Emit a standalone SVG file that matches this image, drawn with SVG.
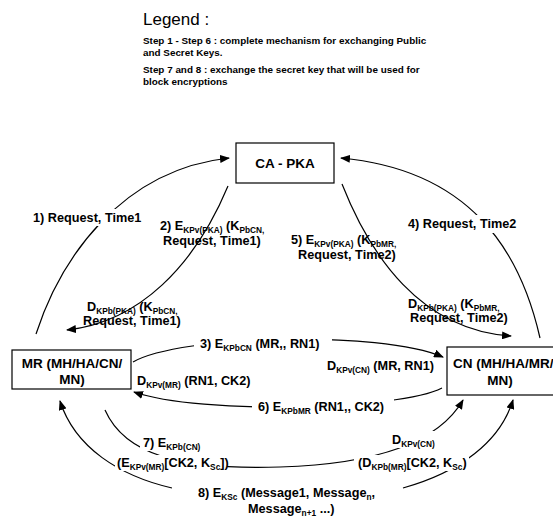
<svg xmlns="http://www.w3.org/2000/svg" width="553" height="523" viewBox="0 0 553 523">
<style>
text{font-family:"Liberation Sans",Arial,sans-serif;fill:#000}
.lg{font-size:17px}
.st{font-size:9.9px;font-weight:bold}
.nd{font-size:13.5px;font-weight:bold}
.lb{font-size:12.7px;font-weight:bold}
.s{font-size:8.3px}
.bg{fill:#fff}
.box{fill:#fff;stroke:#000;stroke-width:1.2}
.c{fill:none;stroke:#000;stroke-width:1.2}
</style>
<defs>
<marker id="ah" viewBox="0 0 10 8" refX="9" refY="4" markerWidth="10" markerHeight="8" markerUnits="userSpaceOnUse" orient="auto-start-reverse">
<path d="M0,0 L10,4 L0,8 Z" fill="#000"/>
</marker>
</defs>
<rect width="553" height="523" fill="#fff"/>
<g id="legend">
<text class="lg" x="143" y="25">Legend :</text>
<text class="st" x="143" y="44">Step 1 - Step 6 : complete mechanism for exchanging Public</text>
<text class="st" x="143" y="56">and Secret Keys.</text>
<text class="st" x="143" y="73">Step 7 and 8 : exchange the secret key that will be used for</text>
<text class="st" x="143" y="85">block encryptions</text>
</g>
<g id="connectors">
<path class="c" marker-end="url(#ah)" d="M36,334 C60,260 120,170 229,158"/>
<path class="c" marker-end="url(#ah)" d="M540,338 C520,250 470,170 341,158"/>
<path class="c" marker-end="url(#ah)" d="M228,186 C195,265 140,322 67,330"/>
<path class="c" marker-end="url(#ah)" d="M342,184 C370,255 420,330 511,336"/>
<path class="c" marker-end="url(#ah)" d="M133,362 C180,335 380,330 443,357"/>
<path class="c" marker-end="url(#ah)" d="M442,388 C400,410 200,415 134,392"/>
<path class="c" marker-end="url(#ah)" d="M105,410 C125,455 180,470 280,467 C380,464 440,440 463,400"/>
<path class="c" marker-end="url(#ah)" d="M172,488 C120,476 75,448 60,401"/>
<path class="c" marker-end="url(#ah)" d="M403,488 C460,472 500,442 513,400"/>
</g>
<g id="ca-pka">
<rect class="box" x="236" y="143" width="98" height="40"/>
<text class="nd" x="285" y="168" text-anchor="middle">CA - PKA</text>
</g>
<g id="mr">
<rect class="box" x="12" y="350" width="119" height="39"/>
<text class="nd" x="72" y="368" text-anchor="middle">MR (MH/HA/CN/</text>
<text class="nd" x="72" y="384" text-anchor="middle">MN)</text>
</g>
<g id="cn">
<rect class="box" x="447" y="347" width="112" height="48"/>
<text class="nd" x="453" y="368">CN (MH/HA/MR/</text>
<text class="nd" x="500" y="385" text-anchor="middle">MN)</text>
</g>
<g id="labels">
<rect class="bg" x="31" y="209" width="113" height="17"/>
<rect class="bg" x="405" y="215" width="116" height="18"/>
<rect class="bg" x="194" y="335" width="138" height="17"/>
<rect class="bg" x="252" y="398" width="142" height="18"/>
<rect class="bg" x="140" y="435" width="72" height="16"/>
<rect class="bg" x="115" y="455" width="112" height="16"/>
<rect class="bg" x="388" y="431" width="52" height="17"/>
<rect class="bg" x="354" y="455" width="115" height="16"/>
<text class="lb" x="33" y="222">1) Request, Time1</text>
<text class="lb" x="160" y="230">2) E<tspan class="s" dy="2.5">KPv(PKA)</tspan><tspan dy="-2.5"> (K</tspan><tspan class="s" dy="2.5">PbCN,</tspan></text>
<text class="lb" x="163" y="245">Request, Time1)</text>
<text class="lb" x="87" y="311">D<tspan class="s" dy="2.5">KPb(PKA)</tspan><tspan dy="-2.5"> (K</tspan><tspan class="s" dy="2.5">PbCN,</tspan></text>
<text class="lb" x="83" y="325">Request, Time1)</text>
<text class="lb" x="408" y="228">4) Request, Time2</text>
<text class="lb" x="291" y="244">5) E<tspan class="s" dy="2.5">KPv(PKA)</tspan><tspan dy="-2.5"> (K</tspan><tspan class="s" dy="2.5">PbMR,</tspan></text>
<text class="lb" x="298" y="259">Request, Time2)</text>
<text class="lb" x="408" y="308">D<tspan class="s" dy="2.5">KPb(PKA)</tspan><tspan dy="-2.5"> (K</tspan><tspan class="s" dy="2.5">PbMR,</tspan></text>
<text class="lb" x="410" y="322">Request, Time2)</text>
<text class="lb" x="200" y="348">3) E<tspan class="s" dy="2.5">KPbCN</tspan><tspan dy="-2.5"> (MR,, RN1)</tspan></text>
<text class="lb" x="327" y="370">D<tspan class="s" dy="2.5">KPv(CN)</tspan><tspan dy="-2.5"> (MR, RN1)</tspan></text>
<text class="lb" x="137" y="385">D<tspan class="s" dy="2.5">KPv(MR)</tspan><tspan dy="-2.5"> (RN1, CK2)</tspan></text>
<text class="lb" x="258" y="411">6) E<tspan class="s" dy="2.5">KPbMR</tspan><tspan dy="-2.5"> (RN1,, CK2)</tspan></text>
<text class="lb" x="143" y="447">7) E<tspan class="s" dy="2.5">KPb(CN)</tspan></text>
<text class="lb" x="117" y="467">(E<tspan class="s" dy="2.5">KPv(MR)</tspan><tspan dy="-2.5">[CK2, K</tspan><tspan class="s" dy="2.5">Sc</tspan><tspan dy="-2.5">])</tspan></text>
<text class="lb" x="392" y="444">D<tspan class="s" dy="2.5">KPv(CN)</tspan></text>
<text class="lb" x="358" y="467">(D<tspan class="s" dy="2.5">KPb(MR)</tspan><tspan dy="-2.5">[CK2, K</tspan><tspan class="s" dy="2.5">Sc</tspan><tspan dy="-2.5">)</tspan></text>
<text class="lb" x="198" y="497">8) E<tspan class="s" dy="2.5">KSc</tspan><tspan dy="-2.5"> (Message1, Message</tspan><tspan class="s" dy="2.5">n</tspan><tspan dy="-2.5">,</tspan></text>
<text class="lb" x="248" y="513">Message<tspan class="s" dy="2.5">n+1</tspan><tspan dy="-2.5"> ...)</tspan></text>
</g>
</svg>
